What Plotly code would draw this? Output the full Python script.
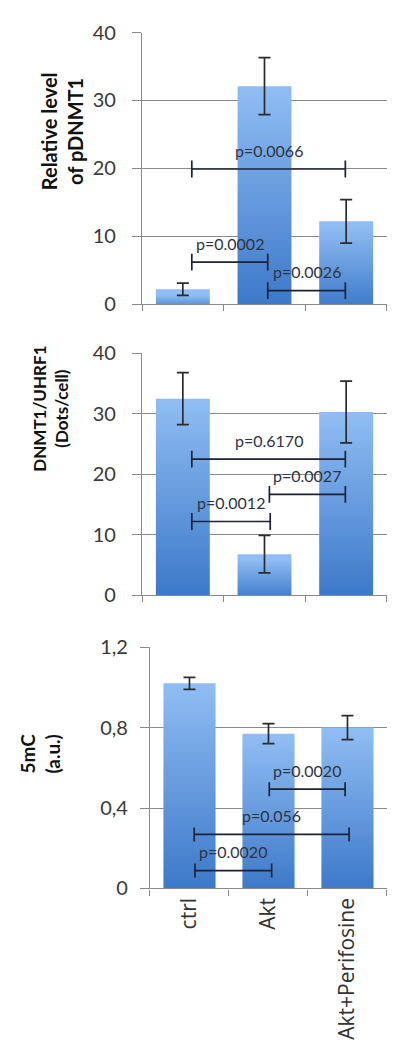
import plotly.graph_objects as go

# Groups shared by all three panels
categories = ["ctrl", "Akt", "Akt+Perifosine"]

# Panel 1: relative level of pDNMT1
pdnmt1_mean = [2.2, 32.1, 12.2]
pdnmt1_err = [0.9, 4.2, 3.2]
pdnmt1_pvals = ["p=0.0066", "p=0.0002", "p=0.0026"]

# Panel 2: DNMT1/UHRF1 dots per cell
dots_mean = [32.5, 6.8, 30.3]
dots_err = [4.3, 3.1, 5.1]
dots_pvals = ["p=0.6170", "p=0.0027", "p=0.0012"]

# Panel 3: 5mC (a.u.)
mc_mean = [1.02, 0.77, 0.80]
mc_err = [0.03, 0.05, 0.06]
mc_pvals = ["p=0.0020", "p=0.056", "p=0.0020"]

# y-axis ticks
pdnmt1_ticks = [0, 10, 20, 30, 40]
dots_ticks = [0, 10, 20, 30, 40]
mc_ticks = [0, 0.4, 0.8, 1.2]
mc_ticktext = ["0", "0,4", "0,8", "1,2"]

# Comparison brackets: (from group, to group, height)
pdnmt1_brackets = [(0.11, 1.99, 19.9), (0.11, 1.04, 6.2), (1.04, 1.99, 2.0)]
dots_brackets = [(0.11, 1.99, 22.5), (1.06, 1.99, 16.7), (0.11, 1.07, 12.2)]
mc_brackets = [(1.01, 1.97, 0.494), (0.06, 2.02, 0.269), (0.07, 1.04, 0.089)]

FONT = "Lato"
XFONT = "Open Sans"
GRID = "#8a8a8a"
BAR_TOP = "#90bdf3"
BAR_BOTTOM = "#3a77c8"
ERR_COLOR = "#2b2b2b"
BRACKET_COLOR = "#1b2236"
HALF_W = 0.33

fig = go.Figure()

panels = [
    dict(mean=pdnmt1_mean, err=pdnmt1_err, pvals=pdnmt1_pvals, brackets=pdnmt1_brackets,
         ticks=pdnmt1_ticks, ticktext=[str(t) for t in pdnmt1_ticks], yrange=[0, 40],
         xdom=[0.3595, 0.9797], ydom=[0.7154, 0.9809], cap=12, standoff=12,
         title="Relative level<br>of pDNMT1", tsize=20, tpos=(62, 121)),
    dict(mean=dots_mean, err=dots_err, pvals=dots_pvals, brackets=dots_brackets,
         ticks=dots_ticks, ticktext=[str(t) for t in dots_ticks], yrange=[0, 40],
         xdom=[0.3595, 0.9797], ydom=[0.4308, 0.6673], cap=12, standoff=12,
         title="DNMT1/UHRF1<br>(Dots/cell)", tsize=17, tpos=(51, 405)),
    dict(mean=mc_mean, err=mc_err, pvals=mc_pvals, brackets=mc_brackets,
         ticks=mc_ticks, ticktext=mc_ticktext, yrange=[0, 1.2],
         xdom=[0.3797, 0.9797], ydom=[0.1442, 0.3801], cap=10, standoff=8,
         title="5mC<br>(a.u.)", tsize=19, tpos=(40, 758)),
]

W, H = 395, 1047
annotations = []

for k, p in enumerate(panels, start=1):
    xa = "x" if k == 1 else f"x{k}"
    ya = "y" if k == 1 else f"y{k}"

    # Bars with a vertical light-to-dark gradient
    for i, v in enumerate(p["mean"]):
        fig.add_trace(go.Scatter(
            x=[i - HALF_W, i - HALF_W, i + HALF_W, i + HALF_W, i - HALF_W],
            y=[0, v, v, 0, 0],
            mode="lines", line=dict(width=0), fill="toself",
            fillgradient=dict(type="vertical", start=0, stop=v,
                              colorscale=[[0, BAR_BOTTOM], [1, BAR_TOP]]),
            xaxis=xa, yaxis=ya, showlegend=False, hoverinfo="skip",
        ))

    # Error bars
    fig.add_trace(go.Scatter(
        x=list(range(len(categories))), y=p["mean"], mode="markers",
        marker=dict(size=1, color="rgba(0,0,0,0)"),
        error_y=dict(type="data", array=p["err"], color=ERR_COLOR,
                     thickness=1.7, width=6),
        xaxis=xa, yaxis=ya, showlegend=False, hoverinfo="skip",
    ))

    # Significance brackets with p-value labels
    for (x0, x1, yb), label in zip(p["brackets"], p["pvals"]):
        fig.add_trace(go.Scatter(
            x=[x0, x1], y=[yb, yb], mode="lines+markers",
            line=dict(color=BRACKET_COLOR, width=1.7),
            marker=dict(symbol="line-ns", size=p["cap"],
                        line=dict(color=BRACKET_COLOR, width=1.7)),
            xaxis=xa, yaxis=ya, showlegend=False, hoverinfo="skip",
        ))
        annotations.append(dict(
            x=(x0 + x1) / 2, y=yb, xref=xa, yref=ya, text=label,
            showarrow=False, yanchor="middle", yshift=19,
            font=dict(family=FONT, size=16, color="#2e3440"),
        ))

    # Rotated two-line y-axis title
    annotations.append(dict(
        x=p["tpos"][0] / W, y=1 - p["tpos"][1] / H, xref="paper", yref="paper",
        text=f"<b>{p['title']}</b>",
        textangle=-90, showarrow=False, xanchor="center", yanchor="middle",
        font=dict(family=FONT, size=p["tsize"], color="#111111"),
    ))

    last = k == len(panels)
    fig.layout[f"xaxis{'' if k == 1 else k}"] = dict(
        domain=p["xdom"], anchor=ya, range=[-0.5, 2.5],
        tickmode="array", tickvals=list(range(len(categories))),
        ticktext=categories, showticklabels=last, ticks="",
        tickangle=-90, tickfont=dict(family=XFONT, size=21, color="#333333"),
        showline=True, linecolor=GRID, linewidth=1.2, showgrid=False, zeroline=False,
        minor=dict(tickmode="array", tickvals=[-0.5, 0.5, 1.5, 2.5], ticks="outside",
                   ticklen=6, tickcolor=GRID, tickwidth=1.2, showgrid=False),
    )
    fig.layout[f"yaxis{'' if k == 1 else k}"] = dict(
        domain=p["ydom"], anchor=xa, range=p["yrange"],
        tickmode="array", tickvals=p["ticks"], ticktext=p["ticktext"],
        ticks="outside", ticklen=9, tickcolor=GRID, tickwidth=1.2,
        ticklabelstandoff=p["standoff"],
        tickfont=dict(family=FONT, size=20, color="#3a3a3a"),
        showline=True, linecolor=GRID, linewidth=1.2,
        showgrid=True, gridcolor=GRID, gridwidth=1.2, zeroline=False,
    )

fig.update_layout(
    width=W, height=H, margin=dict(l=0, r=0, t=0, b=0),
    paper_bgcolor="white", plot_bgcolor="white",
    annotations=annotations, showlegend=False,
)

fig.write_html("out.html")
